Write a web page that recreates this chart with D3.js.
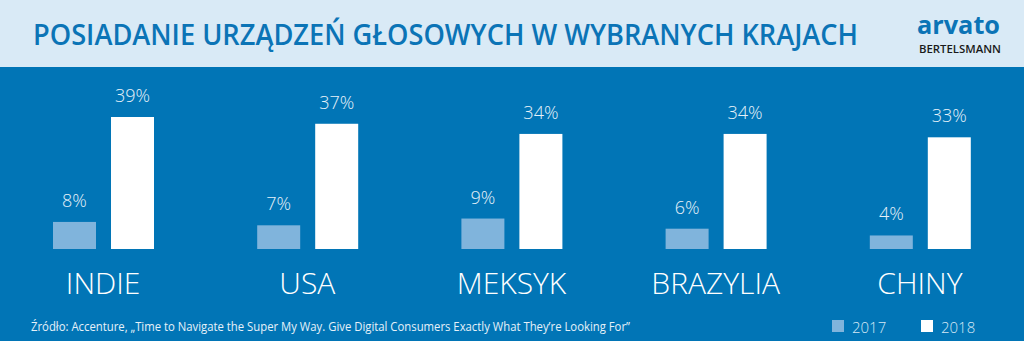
<!DOCTYPE html>
<html lang="pl">
<head>
  <meta charset="utf-8">
  <title>Posiadanie urządzeń głosowych</title>
  <script src="https://d3js.org/d3.v7.min.js"></script>
  <style>
    body { margin: 0; background: #0175b6; }
    svg { display: block; }
  </style>
</head>
<body>
<script>
  // dane
  var countries = ["INDIE", "USA", "MEKSYK", "BRAZYLIA", "CHINY"];
  var years = ["2017", "2018"];
  var values2017 = [8, 7, 9, 6, 4];
  var values2018 = [39, 37, 34, 34, 33];

  var width = 1024,
      height = 341;

  var svg = d3.select("body").append("svg")
      .attr("width", width)
      .attr("height", height);

  // tło
  svg.append("rect")
      .attr("width", width)
      .attr("height", height)
      .attr("fill", "#0175b6");

  svg.append("rect")
      .attr("width", width)
      .attr("height", 67)
      .attr("fill", "#d9eaf6");

  svg.append("text")
      .attr("x", 33)
      .attr("y", 45)
      .attr("font-family", "'Open Sans', sans-serif")
      .attr("font-weight", 600)
      .attr("font-size", 28)
      .attr("fill", "#0b74b6")
      .attr("textLength", 825)
      .attr("lengthAdjust", "spacingAndGlyphs")
      .text("POSIADANIE URZĄDZEŃ GŁOSOWYCH W WYBRANYCH KRAJACH");

  // logo
  svg.append("text")
      .attr("x", 917)
      .attr("y", 34)
      .attr("font-family", "'Open Sans', sans-serif")
      .attr("font-weight", 700)
      .attr("font-size", 25)
      .attr("fill", "#0b74b6")
      .attr("textLength", 83)
      .attr("lengthAdjust", "spacingAndGlyphs")
      .text("arvato");

  svg.append("text")
      .attr("x", 919)
      .attr("y", 53)
      .attr("font-family", "'Open Sans', sans-serif")
      .attr("font-weight", 600)
      .attr("font-size", 11)
      .attr("fill", "#1a1a1a")
      .attr("textLength", 82)
      .attr("lengthAdjust", "spacingAndGlyphs")
      .text("BERTELSMANN");

  // skale
  var x0 = d3.scaleBand()
      .domain(countries)
      .range([1, 1022]);

  var x1 = d3.scaleBand()
      .domain(years)
      .range([52, 153])
      .paddingInner(15 / 58);

  var y = d3.scaleLinear()
      .domain([0, 39])
      .range([249, 117]);

  var color = d3.scaleOrdinal()
      .domain(years)
      .range(["#80b4dc", "#ffffff"]);

  var rows = countries.map(function(c, i) {
    return { country: c, values: [
      { year: "2017", value: values2017[i] },
      { year: "2018", value: values2018[i] }
    ]};
  });

  var groups = svg.append("g").selectAll("g")
      .data(rows)
      .enter().append("g")
      .attr("transform", function(d) { return "translate(" + x0(d.country) + ",0)"; });

  groups.selectAll("rect")
      .data(function(d) { return d.values; })
      .enter().append("rect")
      .attr("x", function(d) { return x1(d.year); })
      .attr("y", function(d) { return y(d.value); })
      .attr("width", x1.bandwidth())
      .attr("height", function(d) { return y(0) - y(d.value); })
      .attr("fill", function(d) { return color(d.year); });

  groups.selectAll("text.val")
      .data(function(d) { return d.values; })
      .enter().append("text")
      .attr("class", "val")
      .attr("x", function(d) { return x1(d.year) + x1.bandwidth() / 2; })
      .attr("y", function(d) { return y(d.value) - 15; })
      .attr("text-anchor", "middle")
      .attr("font-family", "'Open Sans', sans-serif")
      .attr("font-weight", 300)
      .attr("font-size", 18)
      .attr("fill", "#e6f1f9")
      .text(function(d) { return d.value + "%"; });

  groups.append("text")
      .attr("x", x0.bandwidth() / 2)
      .attr("y", 294)
      .attr("text-anchor", "middle")
      .attr("font-family", "'Open Sans', sans-serif")
      .attr("font-weight", 300)
      .attr("font-size", 30)
      .attr("fill", "#ffffff")
      .text(function(d) { return d.country; });

  // źródło
  svg.append("text")
      .attr("x", 31)
      .attr("y", 331)
      .attr("font-family", "'Open Sans', sans-serif")
      .attr("font-size", 12.5)
      .attr("fill", "#e6f1f9")
      .attr("textLength", 599)
      .attr("lengthAdjust", "spacingAndGlyphs")
      .text("Źródło: Accenture, „Time to Navigate the Super My Way. Give Digital Consumers Exactly What They’re Looking For”");

  // legenda
  var legend = svg.append("g").selectAll("g")
      .data(years)
      .enter().append("g")
      .attr("transform", function(d, i) { return "translate(" + (832 + i * 89) + ",320)"; });

  legend.append("rect")
      .attr("width", 12)
      .attr("height", 12)
      .attr("fill", function(d) { return color(d); });

  legend.append("text")
      .attr("x", 20)
      .attr("y", 13)
      .attr("font-family", "'Open Sans', sans-serif")
      .attr("font-weight", 300)
      .attr("font-size", 15)
      .attr("fill", "#d6e8f5")
      .text(function(d) { return d; });
</script>
</body>
</html>
